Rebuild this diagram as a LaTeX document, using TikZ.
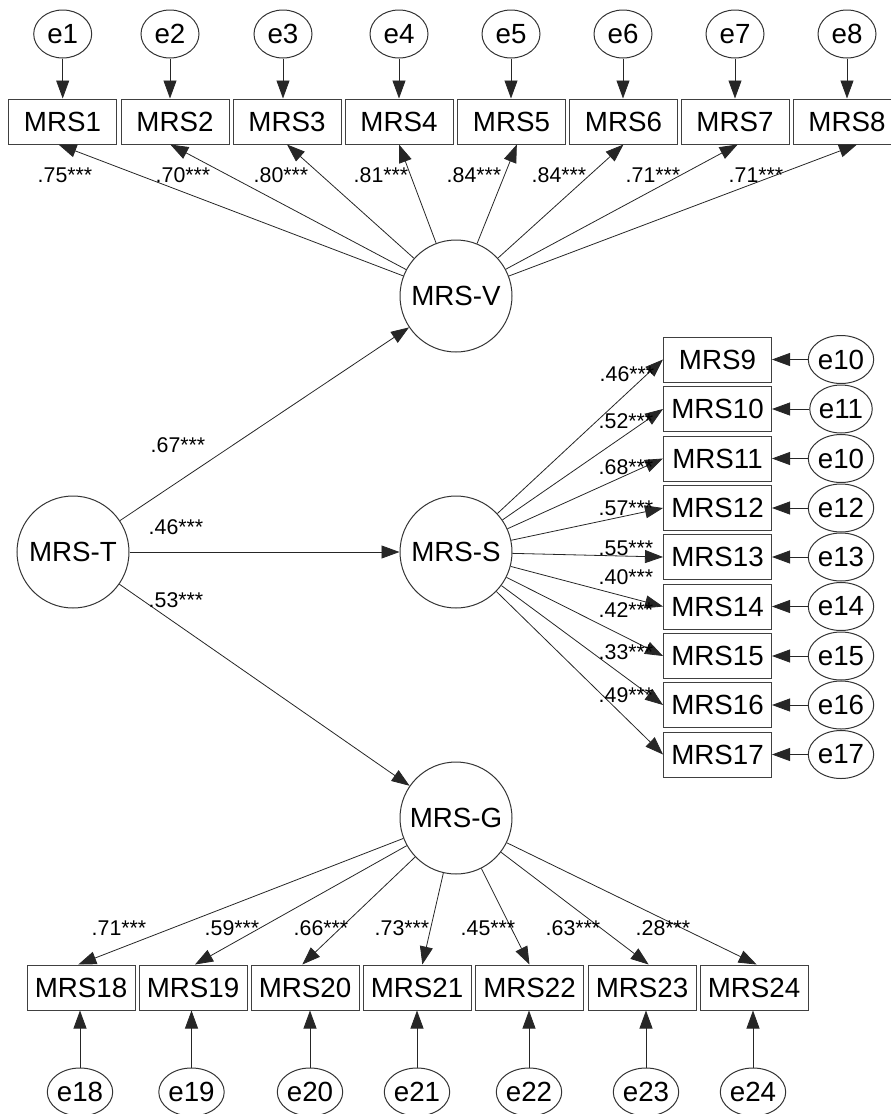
\documentclass[tikz,border=0pt]{standalone}
\usepackage{fontspec}
\setmainfont{Liberation Sans}
\usetikzlibrary{arrows.meta}
\usetikzlibrary{shapes.geometric}
\tikzset{obs/.style={draw=black!75,line width=0.75pt,minimum width=81pt,minimum height=33.75pt,inner sep=0pt,
   font=\fontsize{20.8}{24}\selectfont},
 lat/.style={draw=black!80,circle,line width=0.75pt,minimum size=84pt,inner sep=0pt,
   font=\fontsize{20.8}{24}\selectfont},
 err/.style={draw=black!80,ellipse,line width=0.75pt,minimum width=43.5pt,minimum height=36pt,inner sep=0pt,
   font=\fontsize{20.8}{24}\selectfont},
 coef/.style={inner sep=0pt,font=\fontsize{16}{18}\selectfont},
 loading/.style={-{Triangle[length=13.5pt,width=9.75pt]},line width=0.6pt,draw=black!85},
 }

\begin{document}
\begin{tikzpicture}[x=0.75pt,y=-0.75pt]
        \useasboundingbox (0,0) rectangle (890,1114);
        % latent factors
        \node[lat] (mrst) at (73,552) {MRS-T};
        \node[lat] (mrsv) at (456,296) {MRS-V};
        \node[lat] (mrss) at (456,552) {MRS-S};
        \node[lat] (mrsg) at (456,818) {MRS-G};
        % MRS-V items
        \node[obs] (mrs1) at (62.5,121.5) {MRS1};
        \node[obs] (mrs2) at (175,121.5) {MRS2};
        \node[obs] (mrs3) at (287,121.5) {MRS3};
        \node[obs] (mrs4) at (399,121.5) {MRS4};
        \node[obs] (mrs5) at (511.5,121.5) {MRS5};
        \node[obs] (mrs6) at (623.5,121.5) {MRS6};
        \node[obs] (mrs7) at (735,121.5) {MRS7};
        \node[obs] (mrs8) at (847,121.5) {MRS8};
        \node[err] (err1) at (62.7,34) {e1};
        \node[err] (err2) at (170,34) {e2};
        \node[err] (err3) at (283,34) {e3};
        \node[err] (err4) at (399,34) {e4};
        \node[err] (err5) at (511,34) {e5};
        \node[err] (err6) at (623,34) {e6};
        \node[err] (err7) at (735,34) {e7};
        \node[err] (err8) at (847,34) {e8};
        % MRS-S items
        \node[obs] (mrs9) at (717.5,359.5) {MRS9};
        \node[obs] (mrs10) at (717.5,409) {MRS10};
        \node[obs] (mrs11) at (717.5,458.5) {MRS11};
        \node[obs] (mrs12) at (717.5,508) {MRS12};
        \node[obs] (mrs13) at (717.5,557) {MRS13};
        \node[obs] (mrs14) at (717.5,606.5) {MRS14};
        \node[obs] (mrs15) at (717.5,656) {MRS15};
        \node[obs] (mrs16) at (717.5,705) {MRS16};
        \node[obs] (mrs17) at (717.5,754.5) {MRS17};
        \node[err] (err9) at (841,359.5) {e10};
        \node[err] (err10) at (841,409) {e11};
        \node[err] (err11) at (841,458.5) {e10};
        \node[err] (err12) at (841,508) {e12};
        \node[err] (err13) at (841,557) {e13};
        \node[err] (err14) at (841,606.5) {e14};
        \node[err] (err15) at (841,656) {e15};
        \node[err] (err16) at (841,705) {e16};
        \node[err] (err17) at (841,754.5) {e17};
        % MRS-G items
        \node[obs] (mrs18) at (81,987.5) {MRS18};
        \node[obs] (mrs19) at (193,987.5) {MRS19};
        \node[obs] (mrs20) at (305,987.5) {MRS20};
        \node[obs] (mrs21) at (417,987.5) {MRS21};
        \node[obs] (mrs22) at (529.5,987.5) {MRS22};
        \node[obs] (mrs23) at (642,987.5) {MRS23};
        \node[obs] (mrs24) at (754,987.5) {MRS24};
        \node[err] (err18) at (80,1092) {e18};
        \node[err] (err19) at (191.5,1092) {e19};
        \node[err] (err20) at (310,1092) {e20};
        \node[err] (err21) at (417,1092) {e21};
        \node[err] (err22) at (529,1092) {e22};
        \node[err] (err23) at (646,1092) {e23};
        \node[err] (err24) at (753,1092) {e24};
        % structural paths
        \draw[loading] (mrst) -- (mrsv);
        \draw[loading] (mrst) -- (mrss);
        \draw[loading] (mrst) -- (mrsg);
        \node[coef] (cv) at (178,445) {.67***};
        \node[coef] (cs) at (176,527) {.46***};
        \node[coef] (cg) at (176,600) {.53***};
        % loadings MRS-V
        \draw[loading] (mrsv) -- ([xshift=-3pt]mrs1.south);
        \draw[loading] (mrsv) -- ([xshift=-3.5pt]mrs2.south);
        \draw[loading] (mrsv) -- (mrs3.south);
        \draw[loading] (mrsv) -- (mrs4.south);
        \draw[loading] (mrsv) -- ([xshift=4pt]mrs5.south);
        \draw[loading] (mrsv) -- (mrs6.south);
        \draw[loading] (mrsv) -- ([xshift=2pt]mrs7.south);
        \draw[loading] (mrsv) -- ([xshift=7.5pt]mrs8.south);
        \node[coef] (l1) at (65,175) {.75***};
        \node[coef] (l2) at (183,175) {.70***};
        \node[coef] (l3) at (281,175) {.80***};
        \node[coef] (l4) at (381,175) {.81***};
        \node[coef] (l5) at (474,175) {.84***};
        \node[coef] (l6) at (559,175) {.84***};
        \node[coef] (l7) at (653,175) {.71***};
        \node[coef] (l8) at (756,175) {.71***};
        % loadings MRS-S
        \draw[loading] (mrss) -- (mrs9.west);
        \draw[loading] (mrss) -- (mrs10.west);
        \draw[loading] (mrss) -- (mrs11.west);
        \draw[loading] (mrss) -- (mrs12.west);
        \draw[loading] (mrss) -- (mrs13.west);
        \draw[loading] (mrss) -- (mrs14.west);
        \draw[loading] (mrss) -- (mrs15.west);
        \draw[loading] (mrss) -- (mrs16.west);
        \draw[loading] (mrss) -- (mrs17.west);
        \node[coef] (l9) at (627,374) {.46***};
        \node[coef] (l10) at (626,421) {.52***};
        \node[coef] (l11) at (626,467) {.68***};
        \node[coef] (l12) at (626,508) {.57***};
        \node[coef] (l13) at (626,548) {.55***};
        \node[coef] (l14) at (626,577) {.40***};
        \node[coef] (l15) at (626,610) {.42***};
        \node[coef] (l16) at (626,652) {.33***};
        \node[coef] (l17) at (626,695) {.49***};
        % loadings MRS-G
        \draw[loading] (mrsg) -- ([xshift=-2pt]mrs18.north);
        \draw[loading] (mrsg) -- ([xshift=1.5pt]mrs19.north);
        \draw[loading] (mrsg) -- ([xshift=-2pt]mrs20.north);
        \draw[loading] (mrsg) -- ([xshift=4pt]mrs21.north);
        \draw[loading] (mrsg) -- (mrs22.north);
        \draw[loading] (mrsg) -- ([xshift=5pt]mrs23.north);
        \draw[loading] (mrsg) -- ([xshift=2pt]mrs24.north);
        \node[coef] (l18) at (119,928) {.71***};
        \node[coef] (l19) at (232,928) {.59***};
        \node[coef] (l20) at (321,928) {.66***};
        \node[coef] (l21) at (402,928) {.73***};
        \node[coef] (l22) at (488,928) {.45***};
        \node[coef] (l23) at (573,928) {.63***};
        \node[coef] (l24) at (663,928) {.28***};
        % residuals
        \draw[loading] (err1.south) -- (err1.south |- mrs1.north);
        \draw[loading] (err2.south) -- (err2.south |- mrs2.north);
        \draw[loading] (err3.south) -- (err3.south |- mrs3.north);
        \draw[loading] (err4.south) -- (err4.south |- mrs4.north);
        \draw[loading] (err5.south) -- (err5.south |- mrs5.north);
        \draw[loading] (err6.south) -- (err6.south |- mrs6.north);
        \draw[loading] (err7.south) -- (err7.south |- mrs7.north);
        \draw[loading] (err8.south) -- (err8.south |- mrs8.north);
        \draw[loading] (err9) -- (mrs9);
        \draw[loading] (err10) -- (mrs10);
        \draw[loading] (err11) -- (mrs11);
        \draw[loading] (err12) -- (mrs12);
        \draw[loading] (err13) -- (mrs13);
        \draw[loading] (err14) -- (mrs14);
        \draw[loading] (err15) -- (mrs15);
        \draw[loading] (err16) -- (mrs16);
        \draw[loading] (err17) -- (mrs17);
        \draw[loading] (err18.north) -- (err18.north |- mrs18.south);
        \draw[loading] (err19.north) -- (err19.north |- mrs19.south);
        \draw[loading] (err20.north) -- (err20.north |- mrs20.south);
        \draw[loading] (err21.north) -- (err21.north |- mrs21.south);
        \draw[loading] (err22.north) -- (err22.north |- mrs22.south);
        \draw[loading] (err23.north) -- (err23.north |- mrs23.south);
        \draw[loading] (err24.north) -- (err24.north |- mrs24.south);
    \end{tikzpicture}
\end{document}
